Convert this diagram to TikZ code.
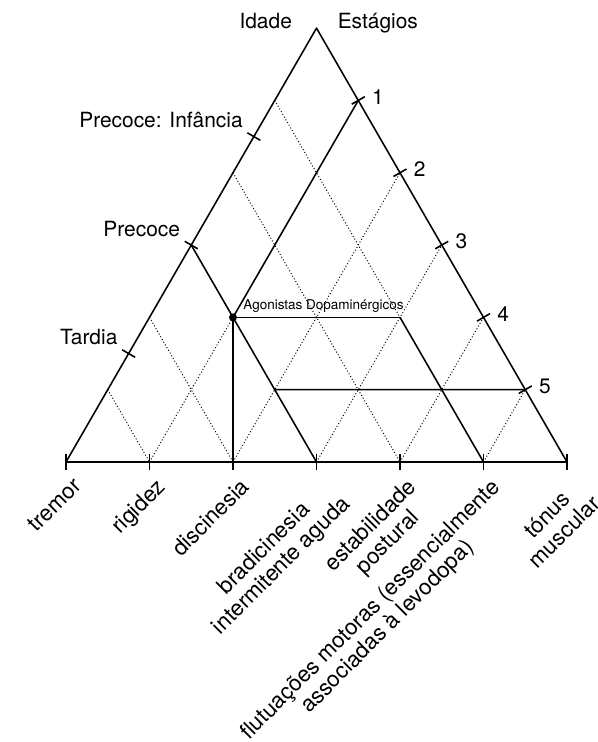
\documentclass[tikz,border=0pt]{standalone}
\usepackage{fontspec}
\setmainfont{TeX Gyre Heros}
\usetikzlibrary{calc}

\begin{document}
\begin{tikzpicture}[
    x=1.5cm, y=1.5cm,
    font=\fontsize{10.7}{12.4}\selectfont,
    edge/.style={line width=0.8pt, line cap=round, line join=round},
    gridline/.style={line width=0.5pt, dash pattern=on 0.5pt off 1.1pt},
    tick/.style={line width=0.8pt},
    axislabel/.style={rotate=45, anchor=north east, align=center, inner sep=0pt,
      font=\fontsize{11.4}{12.3}\selectfont}
]
  \useasboundingbox (-0.7904,-3.3533) rectangle (6.3713,5.5329);

  % corners of the triangle
  \coordinate (L) at (0,0);
  \coordinate (R) at (6,0);
  \coordinate (T) at (3,{3*sqrt(3)});

  % points on the sides
  \foreach \k in {0,...,6} {
    \coordinate (b\k) at ($(L)!\k/6!(R)$);
  }
  \foreach \k in {1,...,5} {
    \coordinate (l\k) at ($(L)!\k/6!(T)$);
    \coordinate (r\k) at ($(R)!\k/6!(T)$);
  }
  \coordinate (D) at (2,{sqrt(3)});
  \coordinate (P) at (4,{sqrt(3)});
  \coordinate (Q) at (2.5,{sqrt(3)/2});

  % dotted grid
  \foreach \k in {1,2,4} {
    \draw[gridline] (l\k) -- (b\k);
  }
  \draw[gridline] (l5) -- (P);
  \foreach \k/\j in {2/4,3/3,4/2,5/1} {
    \draw[gridline] (b\k) -- (r\j);
  }
  \draw[gridline] (b1) -- (D);

  % solid lines
  \draw[edge] (L) -- (R) -- (T) -- cycle;
  \draw[edge] (l3) -- (b3);
  \draw[edge] (P) -- (b5);
  \draw[edge] (D) -- (r5);
  \draw[edge] (D) -- (b2);
  \draw[edge] (D) -- (P);
  \draw[edge] (Q) -- (r1);
  \fill (D) circle (0.048);
  \node[font=\fontsize{6.9}{8}\selectfont, anchor=base west, inner sep=0pt] (agon)
    at ($(D)+(0.12,0.09)$) {Agonistas Dopaminérgicos};

  % ticks on the base
  \foreach \k/\txt in {0/tremor, 1/rigidez, 2/discinesia,
      3/{bradicinesia\\intermitente aguda}, 4/{estabilidade\\postural},
      5/{flutuações motoras (essencialmente\\associadas à levodopa)},
      6/{tónus\\muscular}} {
    \draw[tick] ($(b\k)+(0,-0.09)$) -- ($(b\k)+(0,0.09)$);
    \node[axislabel] (base\k) at ($(b\k)+(0.07,-0.17)$) {\txt};
  }

  % ticks on the right side
  \foreach \j/\n in {5/1,4/2,3/3,2/4,1/5} {
    \draw[tick] ($(r\j)+(-0.078,-0.045)$) -- ($(r\j)+(0.078,0.045)$)
      node[anchor=west] (stage\n) {\n};
  }

  % ticks on the left side
  \foreach \f/\txt in {0.25/Tardia, 0.5/Precoce, 0.75/{Precoce: Infância}} {
    \draw[tick] ($(L)!\f!(T)+(0.078,-0.045)$) -- ($(L)!\f!(T)+(-0.078,0.045)$)
      node[anchor=south east, inner sep=2pt] {\txt};
  }

  \node[anchor=base east, inner sep=0pt] (idade) at ($(T)+(-0.29,0)$) {Idade};
  \node[anchor=base west, inner sep=0pt] (estagios) at ($(T)+(0.25,0)$) {Estágios};
\end{tikzpicture}
\end{document}
